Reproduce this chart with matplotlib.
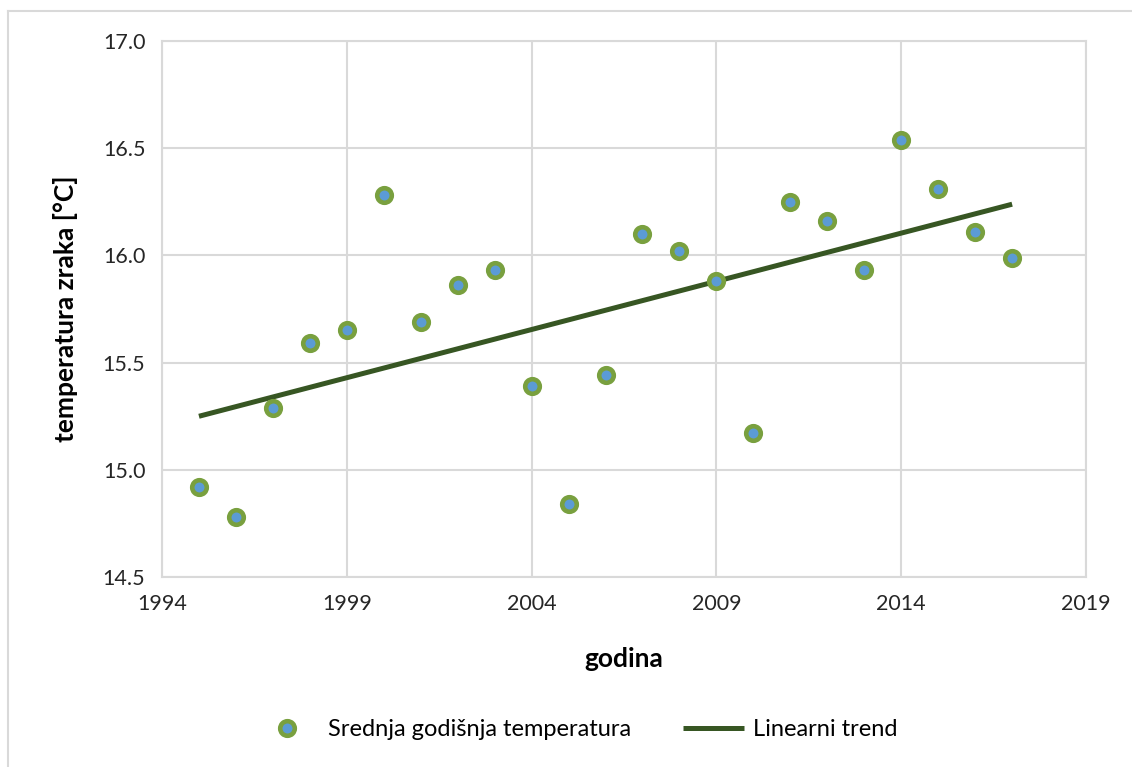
import numpy as np
import matplotlib
matplotlib.use('agg')
import matplotlib.pyplot as plt
from matplotlib.lines import Line2D

plt.rcParams['font.family'] = ['Lato', 'DejaVu Sans']

# data
years = [1995, 1996, 1997, 1998, 1999, 2000, 2001, 2002, 2003, 2004, 2005, 2006,
         2007, 2008, 2009, 2010, 2011, 2012, 2013, 2014, 2015, 2016, 2017]
temps = [14.92, 14.78, 15.29, 15.59, 15.65, 16.28, 15.69, 15.86, 15.93, 15.39, 14.84, 15.44,
         16.10, 16.02, 15.88, 15.17, 16.25, 16.16, 15.93, 16.54, 16.31, 16.11, 15.99]
x_ticks = [1994, 1999, 2004, 2009, 2014, 2019]
y_ticks = [14.5, 15.0, 15.5, 16.0, 16.5, 17.0]

# linear trend
k, n = np.polyfit(years, temps, 1)
trend_x = np.array([years[0], years[-1]])
trend_y = k * trend_x + n

fig = plt.figure(figsize=(11.32, 7.67), dpi=100)
ax = fig.add_axes([0.1431, 0.2477, 0.8163, 0.6988])

grid_c = '#d9d9d9'
ax.plot(trend_x, trend_y, color='#375623', lw=3.6, zorder=3, solid_capstyle='butt',
        label='Linearni trend')
ax.plot(years, temps, ls='none', marker='o', ms=10.5, mfc='#5b9bd5', mec='#79a03f', mew=3.3,
        zorder=4, label='Srednja godišnja temperatura')

ax.set_xlim(1994, 2019)
ax.set_ylim(14.5, 17.0)
ax.set_xticks(x_ticks)
ax.set_yticks(y_ticks)
ax.set_yticklabels(['%.1f' % v for v in y_ticks])
ax.grid(True, color=grid_c, lw=1.5, zorder=0)
ax.set_axisbelow(True)
for s in ax.spines.values():
    s.set_color(grid_c)
    s.set_linewidth(1.5)
ax.tick_params(length=0, labelsize=15.5, colors='#262626', pad=12)
ax.tick_params(axis='x', pad=12)

ax.set_xlabel('godina', fontsize=19, fontweight='bold', labelpad=24)
ax.set_ylabel('temperatura zraka [°C]', fontsize=19, fontweight='bold', labelpad=18)

h, l = ax.get_legend_handles_labels()
fig.legend(h[::-1], l[::-1], loc='center', bbox_to_anchor=(0.51, 0.049), ncol=2, frameon=False,
           fontsize=17, handlelength=2.6, columnspacing=2.2, handletextpad=0.4)

# outer chart border
fig.add_artist(Line2D([8 / 1132, 8 / 1132], [0, 1 - 11 / 767], color=grid_c, lw=1.5))
fig.add_artist(Line2D([8 / 1132, 1], [1 - 11 / 767, 1 - 11 / 767], color=grid_c, lw=1.5))

fig.savefig('out.png', dpi=100)
